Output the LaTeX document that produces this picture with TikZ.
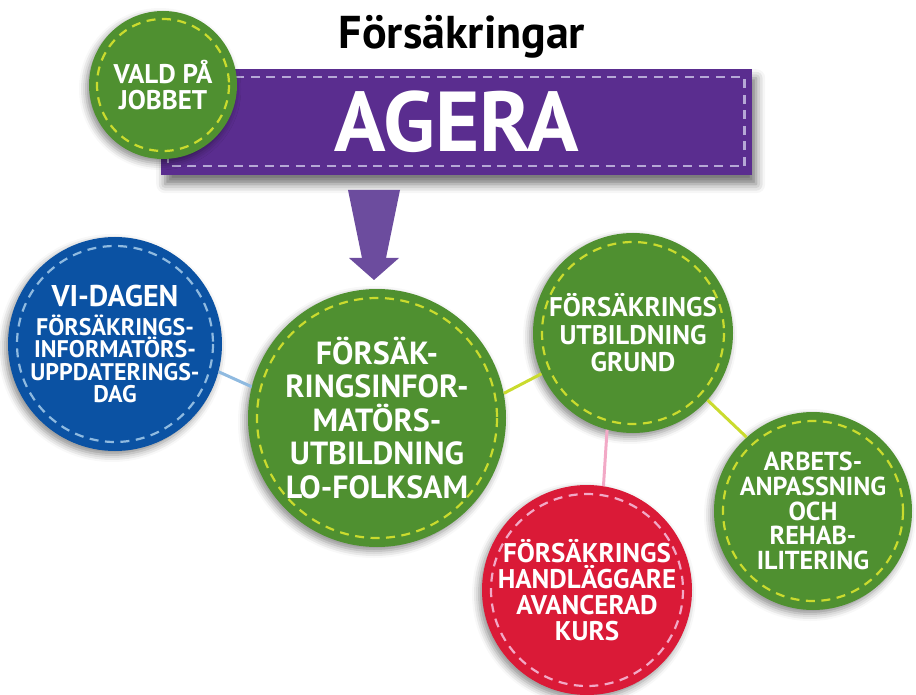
\documentclass[tikz,border=0pt]{standalone}
\usepackage{fontspec}
\setmainfont{PT Sans}
\usetikzlibrary{shadows.blur}
\definecolor{agpurple}{HTML}{5A2D8F}
\definecolor{arrowpurple}{HTML}{6C4C9E}
\definecolor{purdash}{HTML}{B6A8D6}
\definecolor{bgreen}{HTML}{4F9030}
\definecolor{lime}{HTML}{CADB2E}
\definecolor{bblue}{HTML}{0B52A3}
\definecolor{lblue}{HTML}{8FBAE0}
\definecolor{bred}{HTML}{DA1A37}
\definecolor{pink}{HTML}{F2A9C6}
\begin{document}
\begin{tikzpicture}[x=1pt,y=-1pt,
  bub/.style={circle, inner sep=0pt, text=white, align=center,
    blur shadow={shadow xshift=-3pt, shadow yshift=-4pt, shadow blur radius=7pt, shadow opacity=45}},
  stitch/.style={line width=2.2pt, dash pattern=on 9pt off 6.5pt},
  link/.style={line width=3pt},
  greenb/.style={bub, fill=bgreen},
]
\useasboundingbox (0,0) rectangle (916,695);

% banner
\node[rectangle, fill=agpurple, minimum width=591pt, minimum height=106pt, anchor=north west,
  inner sep=0pt, text=white,
  blur shadow={shadow xshift=4pt, shadow yshift=-9pt, shadow blur radius=9pt, shadow opacity=55}]
  (agera) at (161,69) {\fontsize{85}{85}\selectfont\bfseries AGERA};
\draw[purdash, stitch] ([shift={(7pt,-8pt)}]agera.north west) rectangle ([shift={(-8pt,9pt)}]agera.south east);

\node (title) at (462,37) {\fontsize{46}{46}\selectfont\bfseries Försäkringar};

% vald circle
\node[greenb, minimum size=148pt, font=\fontsize{27}{25.5}\selectfont\bfseries] (vald) at (163,85) {VALD PÅ\\JOBBET};
\draw[lime, stitch] (vald.center) circle (66);

% arrow
\fill[arrowpurple] (348,190) -- (400,190) -- (386,258) -- (399,258) -- (374,280) -- (349,258) -- (362,258) -- cycle;

% node coordinates
\coordinate (cb) at (115,344);
\coordinate (cm) at (377,418);
\coordinate (cg) at (633,333);
\coordinate (ca) at (813,511);
\coordinate (cr) at (587,590);

% circles
\node[bub, fill=bblue, minimum size=214pt, font=\fontsize{24}{22.5}\selectfont\bfseries] (blue) at (cb)
  {{\fontsize{30}{30}\selectfont VI-DAGEN}\\[6pt]FÖRSÄKRINGS-\\INFORMATÖRS-\\UPPDATERINGS-\\DAG};
\node[greenb, minimum size=258pt, font=\fontsize{32}{33.5}\selectfont\bfseries] (main) at (cm)
  {FÖRSÄK-\\RINGSINFOR-\\MATÖRS-\\UTBILDNING\\LO-FOLKSAM};
\node[greenb, minimum size=200pt, font=\fontsize{27}{27.5}\selectfont\bfseries] (grund) at (cg)
  {FÖRSÄKRINGS\\UTBILDNING\\GRUND};
\node[greenb, minimum size=198pt, font=\fontsize{26}{24.6}\selectfont\bfseries] (arb) at (ca)
  {ARBETS-\\ANPASSNING\\OCH\\REHAB-\\ILITERING};
\node[bub, fill=bred, minimum size=210pt, font=\fontsize{27}{26}\selectfont\bfseries] (red) at (cr)
  {FÖRSÄKRINGS\\HANDLÄGGARE\\AVANCERAD\\KURS};

% connectors
\draw[link, lblue] (blue.-15) -- (main.166);
\draw[link, lime] (main.11) -- (grund.204);
\draw[link, lime] (grund.-42) -- (arb.132);
\draw[link, pink] (grund.-105) -- (red.81);

% stitches
\draw[lblue, stitch] (blue.center) circle (98);
\draw[lime, stitch] (main.center) circle (120);
\draw[lime, stitch] (grund.center) circle (91);
\draw[lime, stitch] (arb.center) circle (90);
\draw[pink, stitch] (red.center) circle (96);
\end{tikzpicture}
\end{document}
